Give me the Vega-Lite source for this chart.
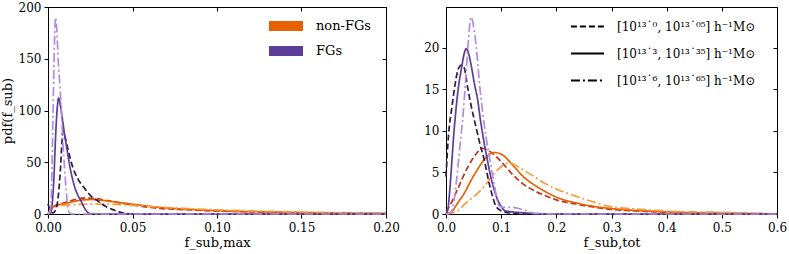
{
"$schema": "https://vega.github.io/schema/vega-lite/v6.json",
"padding": {"left": 0, "top": 0, "right": 0, "bottom": 0},
"spacing": 23,
"config": {
  "font": "DejaVu Serif",
  "view": {"stroke": "#000", "strokeWidth": 1},
  "axis": {"grid": false, "domain": false, "labelFlush": false, "labelOverlap": false, "tickColor": "#000", "tickSize": 4, "labelPadding": 3, "labelFontSize": 12, "labelColor": "#000", "labelFont": "DejaVu Serif", "titleFontSize": 13, "titleFontWeight": "normal", "titleColor": "#000", "titleFont": "DejaVu Serif"},
  "axisX": {"labelPadding": 4},
  "legend": {"labelFont": "DejaVu Serif", "labelFontSize": 13, "labelColor": "#000", "padding": 0}
},
"datasets": {
"L": [
{"s":"N0","g":"non-FGs","m":"a","x":0,"y":0},{"s":"N0","g":"non-FGs","m":"a","x":0.002,"y":4},{"s":"N0","g":"non-FGs","m":"a","x":0.004,"y":8},{"s":"N0","g":"non-FGs","m":"a","x":0.008,"y":10},{"s":"N0","g":"non-FGs","m":"a","x":0.012,"y":12},{"s":"N0","g":"non-FGs","m":"a","x":0.016,"y":14},{"s":"N0","g":"non-FGs","m":"a","x":0.022,"y":15.5},{"s":"N0","g":"non-FGs","m":"a","x":0.028,"y":15},{"s":"N0","g":"non-FGs","m":"a","x":0.035,"y":13},{"s":"N0","g":"non-FGs","m":"a","x":0.045,"y":10},{"s":"N0","g":"non-FGs","m":"a","x":0.055,"y":7.5},{"s":"N0","g":"non-FGs","m":"a","x":0.065,"y":5.5},{"s":"N0","g":"non-FGs","m":"a","x":0.08,"y":4.3},{"s":"N0","g":"non-FGs","m":"a","x":0.1,"y":2.8},{"s":"N0","g":"non-FGs","m":"a","x":0.12,"y":2},{"s":"N0","g":"non-FGs","m":"a","x":0.15,"y":1.2},{"s":"N0","g":"non-FGs","m":"a","x":0.175,"y":0.7},{"s":"N0","g":"non-FGs","m":"a","x":0.2,"y":0.4},
{"s":"N3","g":"non-FGs","m":"b","x":0,"y":0},{"s":"N3","g":"non-FGs","m":"b","x":0.002,"y":5},{"s":"N3","g":"non-FGs","m":"b","x":0.005,"y":8},{"s":"N3","g":"non-FGs","m":"b","x":0.01,"y":10},{"s":"N3","g":"non-FGs","m":"b","x":0.015,"y":12},{"s":"N3","g":"non-FGs","m":"b","x":0.02,"y":13.5},{"s":"N3","g":"non-FGs","m":"b","x":0.026,"y":14},{"s":"N3","g":"non-FGs","m":"b","x":0.033,"y":13},{"s":"N3","g":"non-FGs","m":"b","x":0.045,"y":10.5},{"s":"N3","g":"non-FGs","m":"b","x":0.055,"y":8.5},{"s":"N3","g":"non-FGs","m":"b","x":0.065,"y":6.5},{"s":"N3","g":"non-FGs","m":"b","x":0.08,"y":4.8},{"s":"N3","g":"non-FGs","m":"b","x":0.1,"y":3.2},{"s":"N3","g":"non-FGs","m":"b","x":0.12,"y":2.3},{"s":"N3","g":"non-FGs","m":"b","x":0.15,"y":1.4},{"s":"N3","g":"non-FGs","m":"b","x":0.175,"y":0.9},{"s":"N3","g":"non-FGs","m":"b","x":0.2,"y":0.5},
{"s":"N6","g":"non-FGs","m":"c","x":0,"y":0},{"s":"N6","g":"non-FGs","m":"c","x":0.002,"y":5},{"s":"N6","g":"non-FGs","m":"c","x":0.005,"y":7.5},{"s":"N6","g":"non-FGs","m":"c","x":0.01,"y":8.5},{"s":"N6","g":"non-FGs","m":"c","x":0.02,"y":9.3},{"s":"N6","g":"non-FGs","m":"c","x":0.03,"y":9.5},{"s":"N6","g":"non-FGs","m":"c","x":0.04,"y":9.3},{"s":"N6","g":"non-FGs","m":"c","x":0.05,"y":8.3},{"s":"N6","g":"non-FGs","m":"c","x":0.065,"y":6.8},{"s":"N6","g":"non-FGs","m":"c","x":0.08,"y":5.4},{"s":"N6","g":"non-FGs","m":"c","x":0.1,"y":4},{"s":"N6","g":"non-FGs","m":"c","x":0.12,"y":3},{"s":"N6","g":"non-FGs","m":"c","x":0.15,"y":1.9},{"s":"N6","g":"non-FGs","m":"c","x":0.175,"y":1.2},{"s":"N6","g":"non-FGs","m":"c","x":0.2,"y":0.7},
{"s":"F0","g":"FGs","m":"a","x":0,"y":10},{"s":"F0","g":"FGs","m":"a","x":0.0015,"y":3},{"s":"F0","g":"FGs","m":"a","x":0.003,"y":1},{"s":"F0","g":"FGs","m":"a","x":0.0045,"y":4},{"s":"F0","g":"FGs","m":"a","x":0.0055,"y":10},{"s":"F0","g":"FGs","m":"a","x":0.0068,"y":30},{"s":"F0","g":"FGs","m":"a","x":0.0075,"y":47},{"s":"F0","g":"FGs","m":"a","x":0.0082,"y":68},{"s":"F0","g":"FGs","m":"a","x":0.0088,"y":80},{"s":"F0","g":"FGs","m":"a","x":0.0095,"y":78},{"s":"F0","g":"FGs","m":"a","x":0.011,"y":68},{"s":"F0","g":"FGs","m":"a","x":0.0147,"y":45},{"s":"F0","g":"FGs","m":"a","x":0.018,"y":33},{"s":"F0","g":"FGs","m":"a","x":0.0216,"y":25},{"s":"F0","g":"FGs","m":"a","x":0.025,"y":18},{"s":"F0","g":"FGs","m":"a","x":0.0295,"y":12.5},{"s":"F0","g":"FGs","m":"a","x":0.034,"y":7.5},{"s":"F0","g":"FGs","m":"a","x":0.038,"y":4.5},{"s":"F0","g":"FGs","m":"a","x":0.042,"y":2},{"s":"F0","g":"FGs","m":"a","x":0.046,"y":0.5},{"s":"F0","g":"FGs","m":"a","x":0.05,"y":0},{"s":"F0","g":"FGs","m":"a","x":0.2,"y":0},
{"s":"F3","g":"FGs","m":"b","x":0,"y":0},{"s":"F3","g":"FGs","m":"b","x":0.0015,"y":1},{"s":"F3","g":"FGs","m":"b","x":0.0025,"y":10},{"s":"F3","g":"FGs","m":"b","x":0.0035,"y":35},{"s":"F3","g":"FGs","m":"b","x":0.0045,"y":75},{"s":"F3","g":"FGs","m":"b","x":0.0055,"y":103},{"s":"F3","g":"FGs","m":"b","x":0.0063,"y":112},{"s":"F3","g":"FGs","m":"b","x":0.0072,"y":106},{"s":"F3","g":"FGs","m":"b","x":0.0085,"y":92},{"s":"F3","g":"FGs","m":"b","x":0.0098,"y":77},{"s":"F3","g":"FGs","m":"b","x":0.0113,"y":62},{"s":"F3","g":"FGs","m":"b","x":0.0128,"y":47},{"s":"F3","g":"FGs","m":"b","x":0.0145,"y":34},{"s":"F3","g":"FGs","m":"b","x":0.016,"y":25},{"s":"F3","g":"FGs","m":"b","x":0.018,"y":17},{"s":"F3","g":"FGs","m":"b","x":0.0197,"y":12},{"s":"F3","g":"FGs","m":"b","x":0.0215,"y":6},{"s":"F3","g":"FGs","m":"b","x":0.023,"y":2.5},{"s":"F3","g":"FGs","m":"b","x":0.0246,"y":0.5},{"s":"F3","g":"FGs","m":"b","x":0.027,"y":0},{"s":"F3","g":"FGs","m":"b","x":0.2,"y":0},
{"s":"F6","g":"FGs","m":"c","x":0,"y":0},{"s":"F6","g":"FGs","m":"c","x":0.0012,"y":2},{"s":"F6","g":"FGs","m":"c","x":0.002,"y":20},{"s":"F6","g":"FGs","m":"c","x":0.003,"y":100},{"s":"F6","g":"FGs","m":"c","x":0.0039,"y":170},{"s":"F6","g":"FGs","m":"c","x":0.0045,"y":190},{"s":"F6","g":"FGs","m":"c","x":0.0052,"y":178},{"s":"F6","g":"FGs","m":"c","x":0.006,"y":150},{"s":"F6","g":"FGs","m":"c","x":0.007,"y":125},{"s":"F6","g":"FGs","m":"c","x":0.0079,"y":100},{"s":"F6","g":"FGs","m":"c","x":0.0088,"y":70},{"s":"F6","g":"FGs","m":"c","x":0.0098,"y":44},{"s":"F6","g":"FGs","m":"c","x":0.0108,"y":22},{"s":"F6","g":"FGs","m":"c","x":0.0118,"y":6},{"s":"F6","g":"FGs","m":"c","x":0.0125,"y":1.5},{"s":"F6","g":"FGs","m":"c","x":0.014,"y":0},{"s":"F6","g":"FGs","m":"c","x":0.2,"y":0}
],
"R": [
{"s":"N0","g":"non-FGs","m":"a","x":0,"y":0.3},{"s":"N0","g":"non-FGs","m":"a","x":0.007,"y":1},{"s":"N0","g":"non-FGs","m":"a","x":0.022,"y":3.15},{"s":"N0","g":"non-FGs","m":"a","x":0.04,"y":5.7},{"s":"N0","g":"non-FGs","m":"a","x":0.05,"y":6.8},{"s":"N0","g":"non-FGs","m":"a","x":0.058,"y":7.5},{"s":"N0","g":"non-FGs","m":"a","x":0.066,"y":7.9},{"s":"N0","g":"non-FGs","m":"a","x":0.08,"y":7.5},{"s":"N0","g":"non-FGs","m":"a","x":0.1,"y":6.3},{"s":"N0","g":"non-FGs","m":"a","x":0.12,"y":4.8},{"s":"N0","g":"non-FGs","m":"a","x":0.14,"y":3.6},{"s":"N0","g":"non-FGs","m":"a","x":0.16,"y":2.8},{"s":"N0","g":"non-FGs","m":"a","x":0.18,"y":2.2},{"s":"N0","g":"non-FGs","m":"a","x":0.2,"y":1.7},{"s":"N0","g":"non-FGs","m":"a","x":0.235,"y":1.2},{"s":"N0","g":"non-FGs","m":"a","x":0.26,"y":0.9},{"s":"N0","g":"non-FGs","m":"a","x":0.3,"y":0.55},{"s":"N0","g":"non-FGs","m":"a","x":0.35,"y":0.35},{"s":"N0","g":"non-FGs","m":"a","x":0.4,"y":0.2},{"s":"N0","g":"non-FGs","m":"a","x":0.5,"y":0.08},{"s":"N0","g":"non-FGs","m":"a","x":0.6,"y":0.02},
{"s":"N3","g":"non-FGs","m":"b","x":0,"y":0},{"s":"N3","g":"non-FGs","m":"b","x":0.012,"y":0.4},{"s":"N3","g":"non-FGs","m":"b","x":0.02,"y":1.2},{"s":"N3","g":"non-FGs","m":"b","x":0.034,"y":2.6},{"s":"N3","g":"non-FGs","m":"b","x":0.045,"y":4},{"s":"N3","g":"non-FGs","m":"b","x":0.057,"y":5.35},{"s":"N3","g":"non-FGs","m":"b","x":0.07,"y":6.6},{"s":"N3","g":"non-FGs","m":"b","x":0.087,"y":7.4},{"s":"N3","g":"non-FGs","m":"b","x":0.1,"y":7.2},{"s":"N3","g":"non-FGs","m":"b","x":0.122,"y":5.8},{"s":"N3","g":"non-FGs","m":"b","x":0.14,"y":4.5},{"s":"N3","g":"non-FGs","m":"b","x":0.16,"y":3.5},{"s":"N3","g":"non-FGs","m":"b","x":0.18,"y":2.7},{"s":"N3","g":"non-FGs","m":"b","x":0.205,"y":1.9},{"s":"N3","g":"non-FGs","m":"b","x":0.235,"y":1.35},{"s":"N3","g":"non-FGs","m":"b","x":0.265,"y":0.95},{"s":"N3","g":"non-FGs","m":"b","x":0.3,"y":0.65},{"s":"N3","g":"non-FGs","m":"b","x":0.353,"y":0.4},{"s":"N3","g":"non-FGs","m":"b","x":0.4,"y":0.25},{"s":"N3","g":"non-FGs","m":"b","x":0.45,"y":0.15},{"s":"N3","g":"non-FGs","m":"b","x":0.5,"y":0.1},{"s":"N3","g":"non-FGs","m":"b","x":0.55,"y":0.05},{"s":"N3","g":"non-FGs","m":"b","x":0.6,"y":0},
{"s":"N6","g":"non-FGs","m":"c","x":0,"y":0},{"s":"N6","g":"non-FGs","m":"c","x":0.022,"y":0.4},{"s":"N6","g":"non-FGs","m":"c","x":0.034,"y":1.2},{"s":"N6","g":"non-FGs","m":"c","x":0.0515,"y":2.15},{"s":"N6","g":"non-FGs","m":"c","x":0.069,"y":3.3},{"s":"N6","g":"non-FGs","m":"c","x":0.081,"y":4.35},{"s":"N6","g":"non-FGs","m":"c","x":0.095,"y":5.4},{"s":"N6","g":"non-FGs","m":"c","x":0.111,"y":6.1},{"s":"N6","g":"non-FGs","m":"c","x":0.125,"y":5.9},{"s":"N6","g":"non-FGs","m":"c","x":0.14,"y":5.3},{"s":"N6","g":"non-FGs","m":"c","x":0.16,"y":4.5},{"s":"N6","g":"non-FGs","m":"c","x":0.176,"y":3.8},{"s":"N6","g":"non-FGs","m":"c","x":0.2,"y":3},{"s":"N6","g":"non-FGs","m":"c","x":0.235,"y":2.15},{"s":"N6","g":"non-FGs","m":"c","x":0.265,"y":1.5},{"s":"N6","g":"non-FGs","m":"c","x":0.294,"y":0.95},{"s":"N6","g":"non-FGs","m":"c","x":0.353,"y":0.55},{"s":"N6","g":"non-FGs","m":"c","x":0.4,"y":0.35},{"s":"N6","g":"non-FGs","m":"c","x":0.45,"y":0.25},{"s":"N6","g":"non-FGs","m":"c","x":0.5,"y":0.2},{"s":"N6","g":"non-FGs","m":"c","x":0.55,"y":0.1},{"s":"N6","g":"non-FGs","m":"c","x":0.6,"y":0.02},
{"s":"F0","g":"FGs","m":"a","x":0,"y":4.5},{"s":"F0","g":"FGs","m":"a","x":0.0047,"y":9.6},{"s":"F0","g":"FGs","m":"a","x":0.0106,"y":12.8},{"s":"F0","g":"FGs","m":"a","x":0.0165,"y":15.6},{"s":"F0","g":"FGs","m":"a","x":0.022,"y":17.4},{"s":"F0","g":"FGs","m":"a","x":0.028,"y":17.9},{"s":"F0","g":"FGs","m":"a","x":0.033,"y":17.6},{"s":"F0","g":"FGs","m":"a","x":0.0385,"y":15.5},{"s":"F0","g":"FGs","m":"a","x":0.045,"y":13.2},{"s":"F0","g":"FGs","m":"a","x":0.05,"y":11.7},{"s":"F0","g":"FGs","m":"a","x":0.056,"y":10},{"s":"F0","g":"FGs","m":"a","x":0.062,"y":8.3},{"s":"F0","g":"FGs","m":"a","x":0.069,"y":6.6},{"s":"F0","g":"FGs","m":"a","x":0.078,"y":3.75},{"s":"F0","g":"FGs","m":"a","x":0.085,"y":2},{"s":"F0","g":"FGs","m":"a","x":0.09,"y":1},{"s":"F0","g":"FGs","m":"a","x":0.1,"y":0.4},{"s":"F0","g":"FGs","m":"a","x":0.12,"y":0.1},{"s":"F0","g":"FGs","m":"a","x":0.15,"y":0},{"s":"F0","g":"FGs","m":"a","x":0.6,"y":0},
{"s":"F3","g":"FGs","m":"b","x":0,"y":0},{"s":"F3","g":"FGs","m":"b","x":0.0035,"y":0.6},{"s":"F3","g":"FGs","m":"b","x":0.007,"y":3},{"s":"F3","g":"FGs","m":"b","x":0.01,"y":5.7},{"s":"F3","g":"FGs","m":"b","x":0.014,"y":9.5},{"s":"F3","g":"FGs","m":"b","x":0.018,"y":12.5},{"s":"F3","g":"FGs","m":"b","x":0.022,"y":15},{"s":"F3","g":"FGs","m":"b","x":0.028,"y":17.5},{"s":"F3","g":"FGs","m":"b","x":0.033,"y":19.3},{"s":"F3","g":"FGs","m":"b","x":0.0367,"y":19.9},{"s":"F3","g":"FGs","m":"b","x":0.041,"y":19.3},{"s":"F3","g":"FGs","m":"b","x":0.0456,"y":17.9},{"s":"F3","g":"FGs","m":"b","x":0.052,"y":15.5},{"s":"F3","g":"FGs","m":"b","x":0.057,"y":13.9},{"s":"F3","g":"FGs","m":"b","x":0.062,"y":11.5},{"s":"F3","g":"FGs","m":"b","x":0.068,"y":9},{"s":"F3","g":"FGs","m":"b","x":0.075,"y":6.5},{"s":"F3","g":"FGs","m":"b","x":0.081,"y":4.5},{"s":"F3","g":"FGs","m":"b","x":0.087,"y":3},{"s":"F3","g":"FGs","m":"b","x":0.093,"y":1.8},{"s":"F3","g":"FGs","m":"b","x":0.1,"y":0.9},{"s":"F3","g":"FGs","m":"b","x":0.107,"y":0.4},{"s":"F3","g":"FGs","m":"b","x":0.12,"y":0.25},{"s":"F3","g":"FGs","m":"b","x":0.14,"y":0.15},{"s":"F3","g":"FGs","m":"b","x":0.17,"y":0},{"s":"F3","g":"FGs","m":"b","x":0.6,"y":0},
{"s":"F6","g":"FGs","m":"c","x":0,"y":0},{"s":"F6","g":"FGs","m":"c","x":0.008,"y":0.1},{"s":"F6","g":"FGs","m":"c","x":0.013,"y":1},{"s":"F6","g":"FGs","m":"c","x":0.019,"y":4},{"s":"F6","g":"FGs","m":"c","x":0.025,"y":8},{"s":"F6","g":"FGs","m":"c","x":0.031,"y":12},{"s":"F6","g":"FGs","m":"c","x":0.036,"y":16.5},{"s":"F6","g":"FGs","m":"c","x":0.0396,"y":20},{"s":"F6","g":"FGs","m":"c","x":0.0456,"y":23.7},{"s":"F6","g":"FGs","m":"c","x":0.0515,"y":21.9},{"s":"F6","g":"FGs","m":"c","x":0.055,"y":20},{"s":"F6","g":"FGs","m":"c","x":0.061,"y":15.5},{"s":"F6","g":"FGs","m":"c","x":0.066,"y":12.5},{"s":"F6","g":"FGs","m":"c","x":0.072,"y":9.5},{"s":"F6","g":"FGs","m":"c","x":0.081,"y":6},{"s":"F6","g":"FGs","m":"c","x":0.087,"y":3.75},{"s":"F6","g":"FGs","m":"c","x":0.096,"y":1},{"s":"F6","g":"FGs","m":"c","x":0.105,"y":0.8},{"s":"F6","g":"FGs","m":"c","x":0.12,"y":0.8},{"s":"F6","g":"FGs","m":"c","x":0.14,"y":0.5},{"s":"F6","g":"FGs","m":"c","x":0.16,"y":0.1},{"s":"F6","g":"FGs","m":"c","x":0.2,"y":0},{"s":"F6","g":"FGs","m":"c","x":0.6,"y":0}
]
},
"hconcat": [
{
  "width": 338, "height": 207,
  "data": {"name": "L"},
  "layer": [
    {"mark": {"type": "line", "strokeWidth": 1.7, "interpolate": "monotone"},
     "encoding": {
       "x": {"field": "x", "type": "quantitative", "scale": {"domain": [0, 0.2], "nice": false, "padding": 0, "zero": false}, "axis": {"values": [0, 0.05, 0.1, 0.15, 0.2], "format": ".2f", "title": "f_sub,max", "titlePadding": 3}},
       "y": {"field": "y", "type": "quantitative", "scale": {"domain": [0, 200], "nice": false, "padding": 0}, "axis": {"values": [0, 50, 100, 150, 200], "title": "pdf(f_sub)", "titlePadding": 4}},
       "stroke": {"field": "s", "type": "nominal", "scale": {"domain": ["N0", "N3", "N6", "F0", "F3", "F6"], "range": ["#c0311a", "#e66101", "#fb9a35", "#2e1a47", "#5e3c99", "#b48be0"]}, "legend": null},
       "strokeDash": {"field": "m", "type": "nominal", "scale": {"domain": ["a", "b", "c"], "range": [[6, 3], [1, 0], [9, 3, 2, 3]]}, "legend": null}
     }},
    {"mark": {"type": "point", "filled": true, "size": 0, "opacity": 1},
     "encoding": {
       "x": {"field": "x", "type": "quantitative", "scale": {"domain": [0, 0.2], "nice": false, "padding": 0, "zero": false}, "axis": {"orient": "top", "labels": false, "tickSize": -4, "title": null, "values": [0, 0.05, 0.1, 0.15, 0.2]}},
       "y": {"field": "y", "type": "quantitative", "scale": {"domain": [0, 200], "nice": false, "padding": 0}, "axis": {"orient": "right", "labels": false, "tickSize": -4, "title": null, "values": [0, 50, 100, 150, 200]}},
       "fill": {"field": "g", "type": "nominal", "scale": {"domain": ["non-FGs", "FGs"], "range": ["#e66101", "#5e3c99"]},
         "legend": {"title": null, "orient": "none", "legendX": 220, "legendY": 1, "symbolType": "M-1,-0.3H1V0.3H-1Z", "symbolSize": 1156, "labelOffset": 12, "rowPadding": -4,
           "encode": {"symbols": {"update": {"size": {"value": 1156}, "opacity": {"value": 1}}}}}}
     }}
  ],
  "resolve": {"axis": {"x": "independent", "y": "independent"}}
},
{
  "width": 331, "height": 207,
  "data": {"name": "R"},
  "layer": [
    {"mark": {"type": "line", "strokeWidth": 1.7, "interpolate": "monotone"},
     "encoding": {
       "x": {"field": "x", "type": "quantitative", "scale": {"domain": [0, 0.6], "nice": false, "padding": 0, "zero": false}, "axis": {"values": [0, 0.1, 0.2, 0.3, 0.4, 0.5, 0.6], "format": ".1f", "title": "f_sub,tot", "titlePadding": 3}},
       "y": {"field": "y", "type": "quantitative", "scale": {"domain": [0, 24.9], "nice": false, "padding": 0}, "axis": {"values": [0, 5, 10, 15, 20], "title": null}},
       "stroke": {"field": "s", "type": "nominal", "scale": {"domain": ["N0", "N3", "N6", "F0", "F3", "F6"], "range": ["#c0311a", "#e66101", "#fb9a35", "#2e1a47", "#5e3c99", "#b48be0"]}, "legend": null},
       "strokeDash": {"field": "m", "type": "nominal", "scale": {"domain": ["a", "b", "c"], "range": [[6, 3], [1, 0], [9, 3, 2, 3]]},
         "legend": {"title": null, "orient": "none", "legendX": 124, "legendY": 2, "symbolType": "stroke", "symbolSize": 1100, "symbolStrokeColor": "#000", "symbolStrokeWidth": 1.8, "labelOffset": 12, "rowPadding": 3, "labelFontSize": 12,
           "labelExpr": "datum.label == 'a' ? '[10¹³˙⁰, 10¹³˙⁰⁵] h⁻¹M⊙' : datum.label == 'b' ? '[10¹³˙³, 10¹³˙³⁵] h⁻¹M⊙' : '[10¹³˙⁶, 10¹³˙⁶⁵] h⁻¹M⊙'",
           "encode": {"symbols": {"update": {"stroke": {"value": "#000"}, "opacity": {"value": 1}}}}}}
     }},
    {"mark": {"type": "point", "filled": true, "size": 0, "opacity": 1},
     "encoding": {
       "x": {"field": "x", "type": "quantitative", "scale": {"domain": [0, 0.6], "nice": false, "padding": 0, "zero": false}, "axis": {"orient": "top", "labels": false, "tickSize": -4, "title": null, "values": [0, 0.1, 0.2, 0.3, 0.4, 0.5, 0.6]}},
       "y": {"field": "y", "type": "quantitative", "scale": {"domain": [0, 24.9], "nice": false, "padding": 0}, "axis": {"orient": "right", "labels": false, "tickSize": -4, "title": null, "values": [0, 5, 10, 15, 20]}}
     }}
  ],
  "resolve": {"axis": {"x": "independent", "y": "independent"}}
}
],
"resolve": {"scale": {"x": "independent", "y": "independent", "stroke": "independent", "strokeDash": "independent", "fill": "independent"}, "legend": {"stroke": "independent", "strokeDash": "independent", "fill": "independent"}}
}
